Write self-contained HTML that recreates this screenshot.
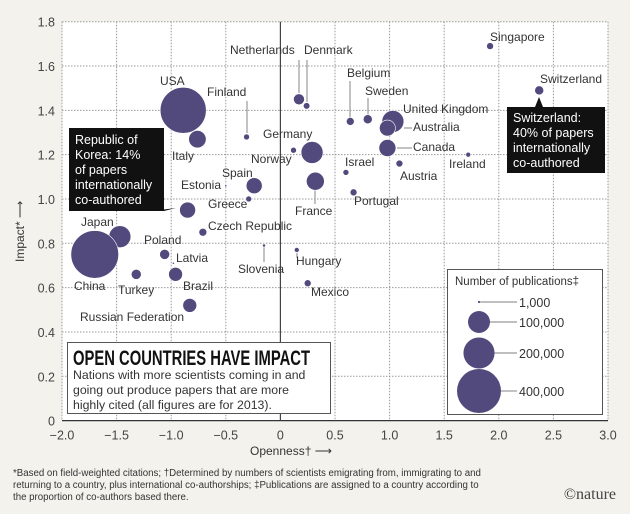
<!DOCTYPE html>
<html><head><meta charset="utf-8"><style>
body{margin:0;background:#f3f2ec;}
svg{display:block;font-family:"Liberation Sans",sans-serif;}
</style></head><body>
<svg id="chart" width="630" height="514" viewBox="0 0 630 514"></svg>
<script>
const countries=["USA","Italy","Finland","Netherlands","Denmark","Norway","Germany","France","Spain","Estonia","Greece","Republic of Korea","Czech Republic","Japan","China","Poland","Latvia","Turkey","Brazil","Russian Federation","Slovenia","Hungary","Mexico","Singapore","Switzerland","Belgium","Sweden","United Kingdom","Australia","Canada","Israel","Austria","Portugal","Ireland"];
const openness=[-0.89,-0.76,-0.31,0.17,0.24,0.12,0.29,0.32,-0.24,-0.5,-0.29,-0.85,-0.71,-1.47,-1.7,-1.06,-0.98,-1.32,-0.96,-0.83,-0.15,0.15,0.25,1.92,2.37,0.64,0.80,1.03,0.98,0.98,0.6,1.09,0.67,1.72];
const impact=[1.40,1.27,1.28,1.45,1.42,1.22,1.21,1.08,1.06,1.06,1.00,0.95,0.85,0.83,0.75,0.75,0.71,0.66,0.66,0.52,0.79,0.77,0.62,1.69,1.49,1.35,1.36,1.35,1.32,1.23,1.12,1.16,1.03,1.20];
const publications=[437000,63000,7400,25000,9000,7400,100000,67000,53000,1000,7400,53000,13000,100000,470000,21000,1000,21000,40000,40000,2000,5000,10000,10000,17000,13000,17000,100000,53000,60000,7400,10000,10000,5000];
const xTicks=[-2,-1.5,-1,-0.5,0,0.5,1,1.5,2,2.5,3];
const xTickLabels=["−2.0","−1.5","−1.0","−0.5","0","0.5","1.0","1.5","2.0","2.5","3.0"];
const yTicks=[0,0.2,0.4,0.6,0.8,1,1.2,1.4,1.6,1.8];
const yTickLabels=["0","0.2","0.4","0.6","0.8","1.0","1.2","1.4","1.6","1.8"];
const legendValues=[1000,100000,200000,400000];
const legendLabels=["1,000","100,000","200,000","400,000"];
const labelPos={"USA":[160,85],"Italy":[172,160],"Finland":[207,96],"Netherlands":[230,54],"Denmark":[304,54],"Norway":[251,163],"Germany":[263,138],"France":[295,215],"Spain":[222,177],"Estonia":[181,189],"Greece":[208,208],"Czech Republic":[208,230],"Japan":[81,226],"China":[74,290],"Poland":[144,244],"Latvia":[176,262],"Turkey":[118,294],"Brazil":[183,290],"Russian Federation":[80,321],"Slovenia":[238,273],"Hungary":[296,265],"Mexico":[311,296],"Singapore":[490,41],"Switzerland":[540,83],"Belgium":[347,77],"Sweden":[365,95],"United Kingdom":[403,113],"Australia":[413,131],"Canada":[413,151],"Israel":[345,166],"Austria":[400,180],"Portugal":[354,205],"Ireland":[449,168]};

const X0=62,X1=608,Y0=420.6,Y1=21.7;
const xs=v=>X0+(v+2)/5*(X1-X0);
const ys=v=>Y0-v/1.8*(Y0-Y1);
const rs=p=>22*Math.sqrt(p/400000);
const NS="http://www.w3.org/2000/svg";
const svg=document.getElementById('chart');
function mk(t,a,txt){const e=document.createElementNS(NS,t);for(const k in a)e.setAttribute(k,a[k]);if(txt!=null)e.textContent=txt;svg.appendChild(e);return e;}
const C="#524a7d";

let e=mk('rect',{x:X0,y:Y1,width:X1-X0,height:Y0-Y1,fill:"#fff"});


xTicks.forEach((t,i)=>{
  if(t!==0&&i>0){e=mk('line',{x1:xs(t),x2:xs(t),y1:Y1,y2:Y0,stroke:"#999","stroke-dasharray":"1.5 1.5","stroke-width":1});
  
  }
  e=mk('text',{x:xs(t),y:Y0+19,"text-anchor":"middle","font-size":12.5,fill:"#444"},xTickLabels[i]);
  
  
});
e=mk('line',{x1:X0,x2:X0,y1:Y1,y2:Y0,stroke:"#999","stroke-dasharray":"1.5 1.5"});
yTicks.forEach((t,i)=>{
  if(t!==0){e=mk('line',{x1:X0,x2:X1,y1:ys(t),y2:ys(t),stroke:"#999","stroke-dasharray":"1.5 1.5","stroke-width":1});
  
  }
  e=mk('text',{x:55,y:ys(t)+5,"text-anchor":"end","font-size":12.5,fill:"#444"},yTickLabels[i]);
  
  
});
e=mk('line',{x1:X0,x2:X1,y1:Y0,y2:Y0,stroke:"#333","stroke-width":1.3});


e=mk('line',{x1:xs(0),x2:xs(0),y1:Y1,y2:Y0,stroke:"#444","stroke-width":1.2});



[[299,60,299,93],[307,60,307,102],[247,101,247,133],[350,81,350,118],[368,98,368,115],[315,190,315,204],[404,128,412,128],[397,148,412,148],[264,247,264,262],[297,253,297,258]].forEach(l=>{
  e=mk('line',{x1:l[0],y1:l[1],x2:l[2],y2:l[3],stroke:"#999","stroke-width":1.2});
  
  
});

e=mk('rect',{x:69,y:128,width:95,height:83,fill:"#111"});


mk('polygon',{points:"152,211 164,211 176,208",fill:"#111"});
["Republic of","Korea: 14%","of papers","internationally","co-authored"].forEach((s,i)=>{e=mk('text',{x:75,y:144+i*15,"font-size":12.5,fill:"#fff"},s);});
e=mk('rect',{x:507,y:107,width:98,height:66,fill:"#111"});


mk('polygon',{points:"535,107 543,107 539,97",fill:"#111"});
["Switzerland:","40% of papers","internationally","co-authored"].forEach((s,i)=>{e=mk('text',{x:513,y:122+i*15,"font-size":12.5,fill:"#fff"},s);});

countries.forEach((c,i)=>{
  e=mk('circle',{cx:xs(openness[i]),cy:ys(impact[i]),r:Math.max(1,rs(publications[i])),fill:C,stroke:"#fff","stroke-width":0.6});
  
  
  const p=labelPos[c];
  if(p){e=mk('text',{x:p[0],y:p[1],"font-size":12,fill:"#333"},c);
  
  }
});

e=mk('rect',{x:67.5,y:342.5,width:263,height:71,fill:"#fff",stroke:"#555"});


e=mk('text',{x:73,y:365,"font-size":21,"font-weight":"bold",fill:"#111",transform:"translate(73 0) scale(0.705 1) translate(-73 0)"},"OPEN COUNTRIES HAVE IMPACT");


["Nations with more scientists coming in and","going out produce papers that are more","highly cited (all figures are for 2013)."].forEach((s,i)=>{e=mk('text',{x:73,y:379+i*15,"font-size":12.3,fill:"#333"},s);});

e=mk('rect',{x:447.5,y:269.5,width:155,height:145,fill:"#fff",stroke:"#555"});


e=mk('text',{x:455,y:285,"font-size":11.5,fill:"#333"},"Number of publications‡");


const legY=[302,322,353,391];
legendValues.forEach((v,i)=>{
  const r=Math.max(1,rs(v));
  e=mk('circle',{cx:479,cy:legY[i],r:r,fill:C});
  
  
  mk('line',{x1:479+r,x2:517,y1:legY[i],y2:legY[i],stroke:"#999","stroke-width":1.2});
  e=mk('text',{x:519,y:legY[i]+5,"font-size":12.5,fill:"#333"},legendLabels[i]);
  
  
});

e=mk('text',{x:250,y:455,"font-size":12,fill:"#333"},"Openness† ⟶");


e=mk('text',{x:0,y:0,"font-size":12,fill:"#333",transform:"translate(24 262) rotate(-90)"},"Impact* ⟶");



["*Based on field-weighted citations; †Determined by numbers of scientists emigrating from, immigrating to and","returning to a country, plus international co-authorships; ‡Publications are assigned to a country according to","the proportion of co-authors based there."].forEach((s,i)=>{e=mk('text',{x:13,y:476+i*12,"font-size":9.7,fill:"#333"},s);});
e=mk('text',{x:616,y:499,"font-size":16,"text-anchor":"end",fill:"#444","font-family":"Liberation Serif, serif"},"©nature");


</script>
</body></html>
